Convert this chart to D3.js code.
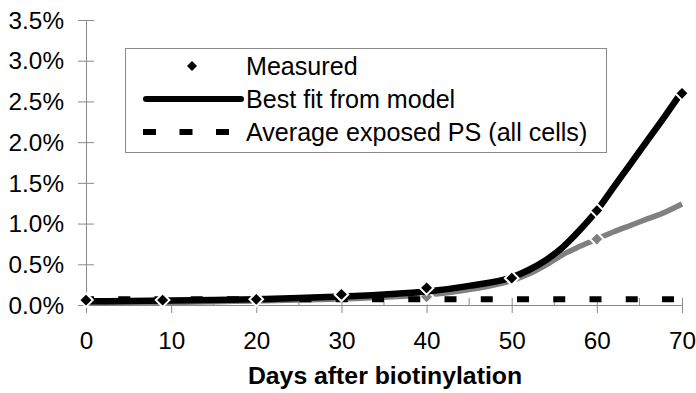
<!DOCTYPE html>
<html>
<head>
<meta charset="utf-8">
<script src="https://cdn.jsdelivr.net/npm/d3@7"></script>
<style>
  html, body { margin: 0; padding: 0; background: #fff; }
  svg { display: block; font-family: "Liberation Sans", Arial, sans-serif; }
</style>
</head>
<body>
<svg id="chart" width="696" height="393"></svg>
<script>
// ---- data ----
const measuredDays = [0, 9, 20, 30, 40, 50, 60, 70];
const measuredValues = [0.06, 0.06, 0.07, 0.13, 0.21, 0.33, 1.16, 2.60];

const fitDays = [0, 5, 10, 15, 20, 25, 30, 35, 40, 45, 50, 52, 54, 56, 58, 60, 62, 64, 66, 68, 70];
const fitValues = [0.045, 0.05, 0.055, 0.06, 0.07, 0.085, 0.105, 0.13, 0.165, 0.235, 0.34, 0.43, 0.55, 0.71, 0.92, 1.16, 1.45, 1.74, 2.03, 2.32, 2.62];

const grayDays = [0, 5, 10, 15, 20, 25, 30, 35, 40, 45, 50, 52, 54, 56, 58, 60, 62, 64, 66, 68, 70];
const grayValues = [0.02, 0.025, 0.03, 0.04, 0.05, 0.06, 0.075, 0.095, 0.125, 0.19, 0.30, 0.38, 0.49, 0.62, 0.72, 0.81, 0.90, 0.98, 1.06, 1.14, 1.24];
const grayMarkerDays = [40, 60];
const grayMarkerValues = [0.10, 0.81];

const averageDays = [0, 70];
const averageValues = [0.07, 0.07];

const yTicks = [0, 0.5, 1.0, 1.5, 2.0, 2.5, 3.0, 3.5];
const xTicks = [0, 10, 20, 30, 40, 50, 60, 70];
const xMinorTicks = [5, 15, 25, 35, 45, 55, 65];

const legendLabels = ["Measured", "Best fit from model", "Average exposed PS (all cells)"];
const xTitle = "Days after biotinylation";

// ---- drawing ----
const svg = d3.select("#chart");
const x = d3.scaleLinear().domain([0, 70]).range([86, 682]);
const y = d3.scaleLinear().domain([0, 3.5]).range([305, 20]);
const axisColor = "#8a8a8a";
const fmt = d3.format(".1f");
const fontFam = "Liberation Sans, Arial, sans-serif";

// axes
const yAxis = svg.append("g").attr("transform", `translate(${x(0)},0)`)
  .call(d3.axisLeft(y).tickValues(yTicks).tickSize(0).tickFormat(d => fmt(d) + "%"));
yAxis.select(".domain").attr("stroke", axisColor);
yAxis.selectAll(".tick line").remove();
yAxis.selectAll(".tick").append("line").attr("x1", -8).attr("x2", 8).attr("stroke", axisColor);
yAxis.selectAll(".tick text").attr("x", -22).attr("dy", "0.34em")
  .attr("font-size", 24.3).attr("fill", "#000").attr("font-family", fontFam);

const xAxis = svg.append("g").attr("transform", `translate(0,${y(0)})`)
  .call(d3.axisBottom(x).tickValues(xTicks).tickSize(0).tickFormat(d3.format("d")));
xAxis.select(".domain").attr("stroke", axisColor);
xAxis.selectAll(".tick line").remove();
xAxis.selectAll(".tick").append("line").attr("y1", -7).attr("y2", 8).attr("stroke", axisColor);
xAxis.selectAll(".tick text").attr("y", 44).attr("dy", 0)
  .attr("font-size", 24.3).attr("fill", "#000").attr("font-family", fontFam);
xAxis.selectAll(".minor").data(xMinorTicks).join("line").attr("class", "minor")
  .attr("x1", d => x(d)).attr("x2", d => x(d)).attr("y1", -7).attr("y2", 0).attr("stroke", axisColor);

svg.append("text").attr("x", 385).attr("y", 384).attr("text-anchor", "middle")
  .attr("font-size", 24.8).attr("font-weight", "bold").text(xTitle);

const line = d3.line().x(d => x(d[0])).y(d => y(d[1])).curve(d3.curveMonotoneX);
const diamond = r => `M0,${-r}L${r},0L0,${r}L${-r},0Z`;

// gray series
svg.append("path").datum(d3.zip(grayDays, grayValues)).attr("d", line)
  .attr("fill", "none").attr("stroke", "#808080").attr("stroke-width", 5.5).attr("stroke-linejoin", "round");
svg.selectAll(".gm").data(d3.zip(grayMarkerDays, grayMarkerValues)).join("path").attr("class", "gm")
  .attr("transform", d => `translate(${x(d[0])},${y(d[1])})`).attr("d", diamond(6.8))
  .attr("fill", "#808080").attr("stroke", "#fff").attr("stroke-width", 2);

// average dashed
svg.append("path").datum(d3.zip(averageDays, averageValues)).attr("d", line)
  .attr("fill", "none").attr("stroke", "#000").attr("stroke-width", 6)
  .attr("stroke-dasharray", "12,24.25").attr("stroke-dashoffset", 4);

// best fit
svg.append("path").datum(d3.zip(fitDays, fitValues)).attr("d", line)
  .attr("fill", "none").attr("stroke", "#000").attr("stroke-width", 6.5).attr("stroke-linejoin", "round");

// measured
svg.selectAll(".mm").data(d3.zip(measuredDays, measuredValues)).join("path").attr("class", "mm")
  .attr("transform", d => `translate(${x(d[0])},${y(d[1])})`).attr("d", diamond(6.8))
  .attr("fill", "#000").attr("stroke", "#fff").attr("stroke-width", 2);

// legend
const lg = svg.append("g");
lg.append("rect").attr("x", 125.5).attr("y", 48.5).attr("width", 481).attr("height", 104)
  .attr("fill", "#fff").attr("stroke", "#8a8a8a").attr("stroke-width", 1);
const rowY = [66, 99, 132];
lg.append("path").attr("transform", `translate(192,${rowY[0]})`).attr("d", diamond(5)).attr("fill", "#000");
lg.append("line").attr("x1", 146).attr("x2", 241).attr("y1", rowY[1]).attr("y2", rowY[1])
  .attr("stroke", "#000").attr("stroke-width", 6).attr("stroke-linecap", "round");
lg.append("line").attr("x1", 143).attr("x2", 241).attr("y1", rowY[2]).attr("y2", rowY[2])
  .attr("stroke", "#000").attr("stroke-width", 6).attr("stroke-dasharray", "13,23.5");
lg.selectAll(".lt").data(legendLabels).join("text").attr("class", "lt")
  .attr("x", 246).attr("y", (d, i) => rowY[i]).attr("dy", "0.36em")
  .attr("font-size", 25.1).text(d => d);
</script>
</body>
</html>
